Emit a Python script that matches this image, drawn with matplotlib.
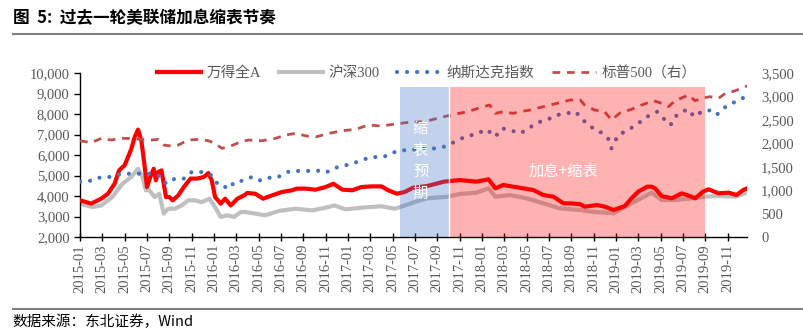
import numpy as np
import matplotlib
matplotlib.use('Agg')
import matplotlib.pyplot as plt
from matplotlib.ticker import FuncFormatter, MultipleLocator

plt.rcParams['font.family'] = ['Liberation Serif', 'Noto Sans CJK SC']
plt.rcParams['axes.unicode_minus'] = False

# tiempo en meses desde 2015-01 (0 = 2015-01-01)
wind_t = [0.0, 1.0, 1.9, 2.5, 3.1, 3.5, 4.0, 4.3, 4.6, 4.9, 5.2, 5.5, 5.8, 6.0, 6.3, 6.6, 6.8, 7.0, 7.3,
          7.5, 7.7, 8.0, 8.3, 8.8, 9.3, 9.9, 10.5, 11.1, 11.5, 11.8, 12.1, 12.6, 13.0, 13.5, 14.1, 14.7,
          15.0, 15.7, 16.4, 17.2, 18.1, 19.0, 19.4, 20.2, 21.1, 22.0, 22.7, 23.5, 24.4, 25.2, 26.1, 27.0,
          27.6, 28.4, 29.1, 29.8, 31.1, 32.6, 34.0, 35.5, 36.6, 37.2, 37.9, 38.8, 39.7, 40.6, 41.5, 42.4,
          43.3, 43.9, 44.8, 45.2, 46.3, 47.0, 47.8, 48.8, 49.4, 50.0, 50.8, 51.2, 51.5, 52.1, 53.0, 53.9,
          54.6, 55.1, 55.8, 56.3, 57.2, 58.1, 58.8, 59.4, 59.75]
wind_v = [3790, 3630, 3870, 4110, 4600, 5250, 5500, 5900, 6300, 6880, 7240, 6700, 5400, 4440, 4930, 5330,
          4760, 5170, 5250, 4600, 3950, 3950, 3790, 4030, 4440, 4850, 4850, 4930, 5120, 4760, 3950, 3630,
          3870, 3540, 3870, 4030, 4150, 4110, 3870, 4030, 4200, 4280, 4360, 4360, 4310, 4440, 4600, 4310,
          4280, 4440, 4470, 4470, 4280, 4110, 4200, 4400, 4488, 4700, 4780, 4700, 4813, 4375, 4537, 4455,
          4375, 4293, 4049, 3968, 3642, 3642, 3600, 3480, 3561, 3480, 3317, 3512, 3887, 4212, 4455, 4455,
          4375, 4000, 3887, 4131, 4000, 3887, 4212, 4326, 4131, 4163, 4049, 4293, 4375]

hs300_t = [0.0, 1.1, 1.9, 2.9, 3.8, 4.6, 5.2, 5.6, 5.9, 6.2, 6.7, 7.1, 7.5, 7.9, 8.5, 9.1, 9.7, 10.3,
           10.9, 11.6, 12.1, 12.6, 13.2, 13.8, 14.4, 14.8, 16.6, 17.8, 19.3, 20.8, 22.0, 22.8, 23.8, 25.2,
           27.0, 28.2, 29.1, 30.0, 31.1, 32.9, 34.0, 35.5, 36.6, 37.2, 38.5, 40.0, 41.5, 43.0, 44.8, 45.8,
           47.8, 49.4, 51.2, 52.1, 53.3, 54.8, 56.0, 57.2, 58.7, 59.75]
hs300_v = [3630, 3460, 3540, 3950, 4600, 4930, 5330, 4930, 4280, 4280, 3950, 4110, 3140, 3380, 3380, 3540,
           3790, 3790, 3700, 3870, 3460, 2980, 3060, 2980, 3220, 3220, 3060, 3270, 3380, 3300, 3430, 3540,
           3350, 3430, 3500, 3380, 3540, 3710, 3887, 3967, 4098, 4162, 4375, 3967, 4049, 3887, 3642, 3398,
           3317, 3236, 3154, 3642, 4163, 3805, 3805, 3887, 3967, 4000, 3967, 4163]

nasdaq_t = [0.0, 1.2, 1.9, 2.8, 3.7, 4.6, 5.5, 6.1, 7.0, 7.4, 7.7, 8.5, 9.4, 10.0, 10.9, 11.8, 12.4, 13.0,
            13.4, 13.8, 14.7, 15.4, 16.1, 16.7, 17.6, 18.8, 20.2, 21.2, 22.0, 22.9, 24.1, 25.1, 26.0, 27.0,
            27.6, 28.2, 29.0, 29.7, 30.8, 31.5, 32.6, 33.6, 34.5, 35.5, 36.4, 37.2, 37.8, 38.5, 39.4, 40.0,
            40.9, 41.8, 42.7, 43.6, 44.4, 44.9, 45.7, 46.4, 47.3, 47.6, 48.2, 49.1, 50.0, 50.8, 51.7, 52.4,
            52.9, 53.3, 53.9, 54.5, 55.0, 55.4, 56.3, 57.0, 57.5, 57.9, 58.7, 59.3, 59.75]
nasdaq_v = [4700, 4760, 4930, 4930, 5090, 5090, 5090, 5090, 5010, 4850, 4600, 4850, 4850, 5170, 5170, 5010,
            4520, 4440, 4360, 4680, 4760, 4930, 4760, 4890, 4890, 5220, 5220, 5250, 5140, 5380, 5540, 5710,
            5900, 5900, 5980, 6150, 6230, 6230, 6358, 6300, 6406, 6650, 6894, 7024, 7253, 6894, 7302, 7220,
            7060, 7220, 7577, 7707, 7951, 8033, 8112, 7790, 7380, 7219, 6814, 6326, 6976, 7219, 7544, 7870,
            8112, 7707, 7463, 7870, 8112, 8229, 7870, 8033, 8195, 7951, 8195, 8390, 8600, 8766, 8850]

spx_t = [0.0, 1.0, 1.9, 2.8, 3.7, 4.6, 5.5, 6.4, 7.0, 7.5, 8.2, 8.8, 9.7, 10.6, 11.5, 12.1, 12.7, 13.5,
         14.4, 15.1, 16.3, 17.5, 18.4, 19.3, 20.3, 21.2, 22.3, 23.5, 24.7, 25.8, 27.0, 28.2, 29.4, 30.8,
         32.0, 33.2, 34.7, 36.1, 36.7, 37.2, 37.9, 38.8, 39.4, 40.3, 41.5, 42.7, 43.9, 44.8, 45.2, 46.1,
         47.0, 47.6, 48.4, 49.4, 50.3, 51.4, 52.1, 52.7, 53.3, 54.5, 55.1, 55.7, 56.4, 57.2, 57.8, 58.7,
         59.6, 59.75]
spx_v = [2055, 2014, 2105, 2070, 2105, 2105, 2084, 2070, 2084, 1963, 1942, 1963, 2070, 2084, 2055, 2000,
         1892, 1942, 2034, 2070, 2055, 2105, 2176, 2212, 2155, 2141, 2212, 2269, 2298, 2390, 2369, 2411,
         2447, 2461, 2532, 2603, 2674, 2781, 2817, 2639, 2674, 2639, 2674, 2710, 2781, 2852, 2924, 2924,
         2817, 2710, 2674, 2497, 2653, 2725, 2817, 2909, 2853, 2781, 2909, 3030, 2909, 2960, 2995, 2960,
         3066, 3123, 3208, 3230]

# periodos sombreados (meses desde 2015-01)
expect_span = (28.67, 33.05)
hike_span = (33.05, 56.0)
span_top = 9300

tick_months = list(range(0, 59, 2))
tick_labels = [f'{2015 + m // 12}-{m % 12 + 1:02d}' for m in tick_months]

fig = plt.figure(figsize=(8.04, 3.35), dpi=100)
ax = fig.add_axes([0.0995, 0.2925, 0.8300, 0.4895])
ax2 = ax.twinx()

l1, = ax.plot(wind_t, wind_v, color='#FF0000', lw=3.0, label='万得全A', zorder=3)
l2, = ax.plot(hs300_t, hs300_v, color='#BFBFBF', lw=3.0, label='沪深300', zorder=2)
l3, = ax.plot(nasdaq_t, nasdaq_v, color='#4472C4', lw=3.0, linestyle=(0, (0.01, 2.4)),
              dash_capstyle='round', label='纳斯达克指数', zorder=4)
l4, = ax2.plot(spx_t, spx_v, color='#C0504D', lw=2.0, linestyle=(0, (2.8, 2.4)),
               label='标普500（右）', zorder=2)

# rectángulos semitransparentes encima de las líneas
frac = (span_top - 2000) / 8000
ax2.axvspan(*expect_span, ymin=0, ymax=frac, color='#4472C4', alpha=0.32, lw=0, zorder=5)
ax2.axvspan(*hike_span, ymin=0, ymax=frac, color='#FF0000', alpha=0.30, lw=0, zorder=5)
ax2.axvline(expect_span[1], ymin=0, ymax=frac, color='white', lw=1, zorder=6)

ax2.text(30.5, 5700, '缩\n表\n预\n期', transform=ax.transData, color='white', fontsize=11,
         ha='center', va='center', linespacing=1.35, family=['Noto Sans CJK SC'], zorder=7)
ax2.text(43.3, 5220, '加息+缩表', transform=ax.transData, color='white', fontsize=11,
         ha='center', va='center', family=['Noto Sans CJK SC'], zorder=7)

ax.set_xlim(0, 59.77)
ax.set_ylim(2000, 10000)
ax2.set_ylim(0, 3500)
ax.yaxis.set_major_locator(MultipleLocator(1000))
ax2.yaxis.set_major_locator(MultipleLocator(500))
fmt = FuncFormatter(lambda v, p: f'{v:,.0f}')
ax.yaxis.set_major_formatter(fmt)
ax2.yaxis.set_major_formatter(fmt)
ax.set_xticks(tick_months)
ax.set_xticklabels(tick_labels, rotation=90)

for a in (ax, ax2):
    a.spines['top'].set_visible(False)
    a.spines['right'].set_visible(False)
ax2.spines['left'].set_visible(False)
ax2.spines['bottom'].set_visible(False)
ax.spines['left'].set_linewidth(1.0)
ax.spines['bottom'].set_linewidth(1.0)

ax.tick_params(axis='x', direction='inout', length=6, width=1, labelsize=10.5, labelcolor='#595959', pad=2)
ax.tick_params(axis='y', direction='out', length=4, width=1, labelsize=10.5, labelcolor='#595959')
ax2.tick_params(axis='y', length=0, labelsize=10.5, labelcolor='#595959', pad=10)

leg = ax2.legend(handles=[l1, l2, l3, l4], loc='center', bbox_to_anchor=(0.52, 1.0), ncol=4,
                 frameon=False, fontsize=10.5, handlelength=3.0, columnspacing=1.2, handletextpad=0.4)
for t in leg.get_texts():
    t.set_color('#595959')
    t.set_family(['Liberation Serif', 'Noto Sans CJK SC'])

# título y fuente
fig.text(0.016, 0.945, '图  5:  过去一轮美联储加息缩表节奏', fontsize=12, weight='bold',
         family=['Noto Sans CJK SC'], va='center', ha='left')
fig.add_artist(plt.Line2D([0.016, 1.0], [0.9, 0.9], color='#808080', lw=1.5))
fig.add_artist(plt.Line2D([0.016, 1.0], [0.078, 0.078], color='#808080', lw=1.5))
fig.text(0.016, 0.038, '数据来源：东北证券，Wind', fontsize=10.5, va='center', ha='left',
         family=['Noto Sans CJK SC', 'Liberation Serif'])

fig.savefig('out.png', dpi=100)
